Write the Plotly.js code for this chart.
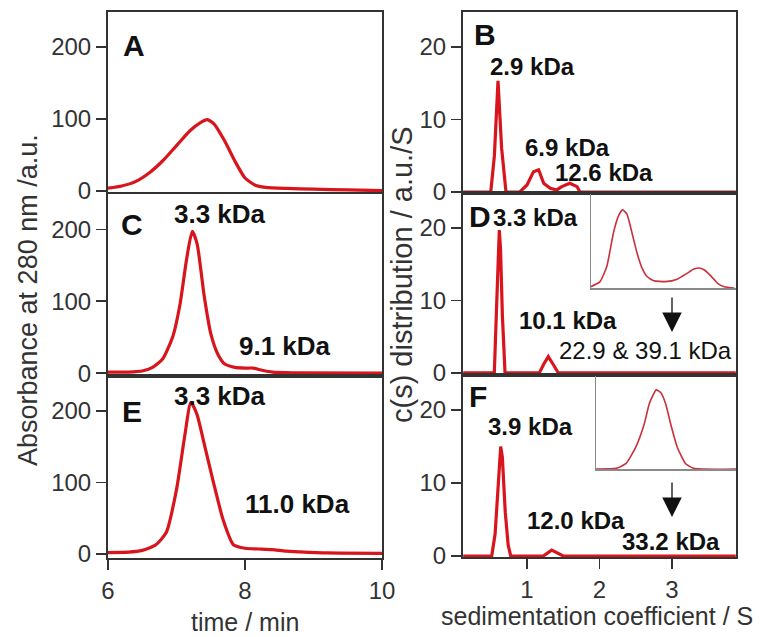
<!DOCTYPE html>
<html><head><meta charset="utf-8">
<script src="https://cdn.plot.ly/plotly-3.0.1.min.js"></script>
<style>html,body{margin:0;padding:0;background:#fff}#chart{width:761px;height:637px}</style>
</head><body><div id="chart"></div>
<script>
// ---------- DATA ----------
// SEC traces (time / min vs absorbance at 280 nm)
const timeA = [6.0,6.2,6.4,6.6,6.8,7.0,7.2,7.35,7.45,7.55,7.7,7.85,8.0,8.15,8.3,8.6,9.0,9.5,10.0];
const absA  = [4,7,13,25,42,63,84,95,99,93,70,42,18,8,5,3.5,2.5,1.5,0.5];
const timeC = [6.0,6.3,6.5,6.65,6.8,6.95,7.05,7.15,7.23,7.3,7.4,7.45,7.5,7.6,7.7,7.85,8.0,8.12,8.25,8.4,8.7,10.0];
const absC  = [1.5,1.5,3,8,20,52,95,160,197,180,110,80,55,27,13,8,7,7,4,1.5,0.5,0];
const timeE = [6.0,6.3,6.5,6.7,6.85,7.0,7.12,7.21,7.3,7.39,7.54,7.68,7.83,8.0,8.2,8.4,8.6,8.8,9.2,10.0];
const absE  = [2,2.5,5,13,30,90,165,212,195,160,100,48,13,8,7,6,4,3,1.5,1];
// c(s) distributions (sedimentation coefficient / S)
const sB = [0.12,0.5,0.55,0.6,0.65,0.71,0.9,1.0,1.09,1.16,1.23,1.32,1.41,1.48,1.59,1.69,1.73,3.88];
const cB = [0,0,5,15.3,6,0,0,0.97,2.8,3.06,1.2,0.5,0.28,0.74,1.2,0.74,0,0];
const sD = [0.12,0.549,0.58,0.605,0.618,0.635,0.66,0.697,1.17,1.23,1.294,1.36,1.432,3.88];
const cD = [0,0,9,18.5,19.7,17,8,0,0,1.2,2.25,1.2,0,0];
const sF = [0.12,0.513,0.56,0.6,0.625,0.637,0.66,0.7,0.74,0.775,1.225,1.34,1.5,3.88];
const cF = [0,0,3,10,14.5,15,13.5,6,1.5,0,0,0.8,0,0];
// insets (zoomed view of the large species)
const sInsetD = [2.0,2.125,2.218,2.31,2.379,2.435,2.496,2.565,2.635,2.704,2.774,2.865,3.028,3.19,3.329,3.421,3.49,3.558,3.653,3.746,3.838,3.976];
const cInsetD = [0.014,0.068,0.229,0.588,0.767,0.831,0.785,0.588,0.373,0.212,0.122,0.078,0.068,0.094,0.158,0.201,0.212,0.194,0.129,0.05,0.014,0.0];
const sInsetF = [2.0,2.29,2.43,2.57,2.69,2.76,2.81,2.86,2.925,2.996,3.066,3.16,3.277,3.394,4.0];
const cInsetF = [0,0.007,0.06,0.237,0.486,0.699,0.787,0.851,0.822,0.699,0.486,0.237,0.06,0.007,0];
// labels
const panelLetters = ['A','B','C','D','E','F'];
const leftTicks = [0,100,200];
const rightTicks = [0,10,20];
const timeTicks = [6,8,10];
const sTicks = [1,2,3];
const labelsC = ['3.3 kDa','9.1 kDa'];
const labelsE = ['3.3 kDa','11.0 kDa'];
const labelsB = ['2.9 kDa','6.9 kDa','12.6 kDa'];
const labelsD = ['3.3 kDa','10.1 kDa','22.9 & 39.1 kDa'];
const labelsF = ['3.9 kDa','12.0 kDa','33.2 kDa'];

// ---------- LAYOUT ----------
const W = 761, H = 637;
const px = v => v / W;
const py = v => 1 - v / H;
const FONT = 'Liberation Sans, Arial, Helvetica, sans-serif';
const RED = '#d8141c';

const mainLine = {width: 3.2, color: RED, shape: 'spline', smoothing: 0.6};
const cLine = {width: 3.2, color: RED};
const insetLine = {width: 1.6, color: '#c8303a', shape: 'spline', smoothing: 0.5};

const traces = [
  {x: timeA, y: absA, xaxis: 'x', yaxis: 'y', mode: 'lines', line: mainLine},
  {x: timeC, y: absC, xaxis: 'x2', yaxis: 'y2', mode: 'lines', line: mainLine},
  {x: timeE, y: absE, xaxis: 'x3', yaxis: 'y3', mode: 'lines', line: mainLine},
  {x: sB, y: cB, xaxis: 'x4', yaxis: 'y4', mode: 'lines', line: cLine},
  {x: sD, y: cD, xaxis: 'x5', yaxis: 'y5', mode: 'lines', line: cLine},
  {x: sF, y: cF, xaxis: 'x6', yaxis: 'y6', mode: 'lines', line: cLine},
  {x: sInsetD, y: cInsetD, xaxis: 'x7', yaxis: 'y7', mode: 'lines', line: insetLine},
  {x: sInsetF, y: cInsetF, xaxis: 'x8', yaxis: 'y8', mode: 'lines', line: insetLine}
];

const tickFont = {family: FONT, size: 24, color: '#333'};
function xAx(domL, domR, range, anchor, ticks) {
  return {domain: [px(domL), px(domR)], range: range, anchor: anchor,
    showline: true, mirror: true, linecolor: '#333', linewidth: 2,
    showgrid: false, zeroline: false, layer: 'below traces',
    ticks: ticks ? 'outside' : '', ticklen: 10, tickwidth: 1.5, tickcolor: '#333',
    tickvals: ticks || [], showticklabels: !!ticks, tickfont: tickFont, fixedrange: true};
}
function yAx(top, bottom, range, anchor, ticks) {
  return {domain: [py(bottom), py(top)], range: range, anchor: anchor,
    showline: true, mirror: true, linecolor: '#333', linewidth: 2,
    showgrid: false, zeroline: false, layer: 'below traces',
    ticks: 'outside', ticklen: 10, tickwidth: 1.5, tickcolor: '#333',
    tickvals: ticks, tickfont: tickFont, fixedrange: true};
}
// x inset axis: lo/hi = left/right pixel; y inset axis: lo = bottom pixel, hi = top pixel
function insetAx(lo, hi, range, anchor, isX) {
  return {domain: isX ? [px(lo), px(hi)] : [py(lo), py(hi)], range: range, anchor: anchor,
    showline: true, mirror: false, linecolor: '#8a8a8a', linewidth: 1.5,
    showgrid: false, zeroline: false, ticks: '', showticklabels: false, fixedrange: true};
}

const layout = {
  width: W, height: H, margin: {l: 0, r: 0, t: 0, b: 0},
  paper_bgcolor: '#fff', plot_bgcolor: 'rgba(0,0,0,0)', showlegend: false,
  font: {family: FONT, color: '#111'},
  xaxis:  xAx(108, 382, [6, 10], 'y', null),
  yaxis:  yAx(12, 192, [-1.4, 248.6], 'x', leftTicks),
  xaxis2: xAx(108, 382, [6, 10], 'y2', null),
  yaxis2: yAx(194, 376, [-4, 249], 'x2', leftTicks),
  xaxis3: xAx(108, 382, [6, 10], 'y3', timeTicks),
  yaxis3: yAx(376, 558, [-5.6, 249], 'x3', leftTicks),
  xaxis4: xAx(463, 736, [0.117, 3.883], 'y4', null),
  yaxis4: yAx(12, 193, [-0.14, 24.8], 'x4', rightTicks),
  xaxis5: xAx(463, 736, [0.117, 3.883], 'y5', null),
  yaxis5: yAx(193, 375, [-0.28, 24.8], 'x5', rightTicks),
  xaxis6: xAx(463, 736, [0.117, 3.883], 'y6', sTicks),
  yaxis6: yAx(375, 557, [-0.14, 24.8], 'x6', rightTicks),
  xaxis7: insetAx(591, 736, [2.0, 4.0], 'y7', true),
  yaxis7: insetAx(288, 194, [0, 1], 'x7', false),
  xaxis8: insetAx(596, 736, [2.0, 4.0], 'y8', true),
  yaxis8: insetAx(469, 376, [0, 1], 'x8', false),
  annotations: [],
  shapes: []
};

function txt(text, x, y, size, opts) {
  return Object.assign({text: text, x: px(x), y: py(y), xref: 'paper', yref: 'paper',
    xanchor: 'center', yanchor: 'middle', showarrow: false,
    font: {family: FONT, size: size, color: '#111'}}, opts || {});
}
const A = layout.annotations;
// panel letters
const letterPos = [[134,45],[485,34],[132,224],[480,216],[132,411],[478,396]];
panelLetters.forEach((l, i) => A.push(txt('<b>' + l + '</b>', letterPos[i][0], letterPos[i][1], 30)));
// peak labels
A.push(txt('<b>' + labelsC[0] + '</b>', 220, 214, 26));
A.push(txt('<b>' + labelsC[1] + '</b>', 285, 346, 26));
A.push(txt('<b>' + labelsE[0] + '</b>', 220, 396, 26));
A.push(txt('<b>' + labelsE[1] + '</b>', 297, 504, 26));
A.push(txt('<b>' + labelsB[0] + '</b>', 532, 66, 24));
A.push(txt('<b>' + labelsB[1] + '</b>', 567, 148, 24));
A.push(txt('<b>' + labelsB[2] + '</b>', 604, 172, 24));
A.push(txt('<b>' + labelsD[0] + '</b>', 535, 217, 24));
A.push(txt('<b>' + labelsD[1] + '</b>', 568, 320, 24));
A.push(txt(labelsD[2], 645, 350, 24));
A.push(txt('<b>' + labelsF[0] + '</b>', 530, 427, 24));
A.push(txt('<b>' + labelsF[1] + '</b>', 576, 520, 24));
A.push(txt('<b>' + labelsF[2] + '</b>', 671, 541, 24));
// axis titles
A.push(txt('time / min', 245, 622, 25, {font: {family: FONT, size: 25, color: '#333'}}));
A.push(txt('sedimentation coefficient / S', 597, 616, 25, {font: {family: FONT, size: 25, color: '#333'}}));
A.push(txt('Absorbance at 280 nm /a.u.', 28, 300, 27, {textangle: -90, font: {family: FONT, size: 27, color: '#333'}}));
A.push(txt('c(s) distribution / a.u./S', 402, 275, 29, {textangle: -90, font: {family: FONT, size: 29, color: '#333'}}));
// arrows pointing from insets to the main axis
A.push({x: px(672), y: py(332), xref: 'paper', yref: 'paper', ax: 0, ay: -36, axref: 'pixel', ayref: 'pixel',
  showarrow: true, arrowhead: 2, arrowsize: 3, arrowwidth: 1.3, arrowcolor: '#111', text: ''});
A.push({x: px(672), y: py(517), xref: 'paper', yref: 'paper', ax: 0, ay: -36, axref: 'pixel', ayref: 'pixel',
  showarrow: true, arrowhead: 2, arrowsize: 3, arrowwidth: 1.3, arrowcolor: '#111', text: ''});

Plotly.newPlot('chart', traces, layout, {displayModeBar: false, staticPlot: true});
</script>
</body></html>
